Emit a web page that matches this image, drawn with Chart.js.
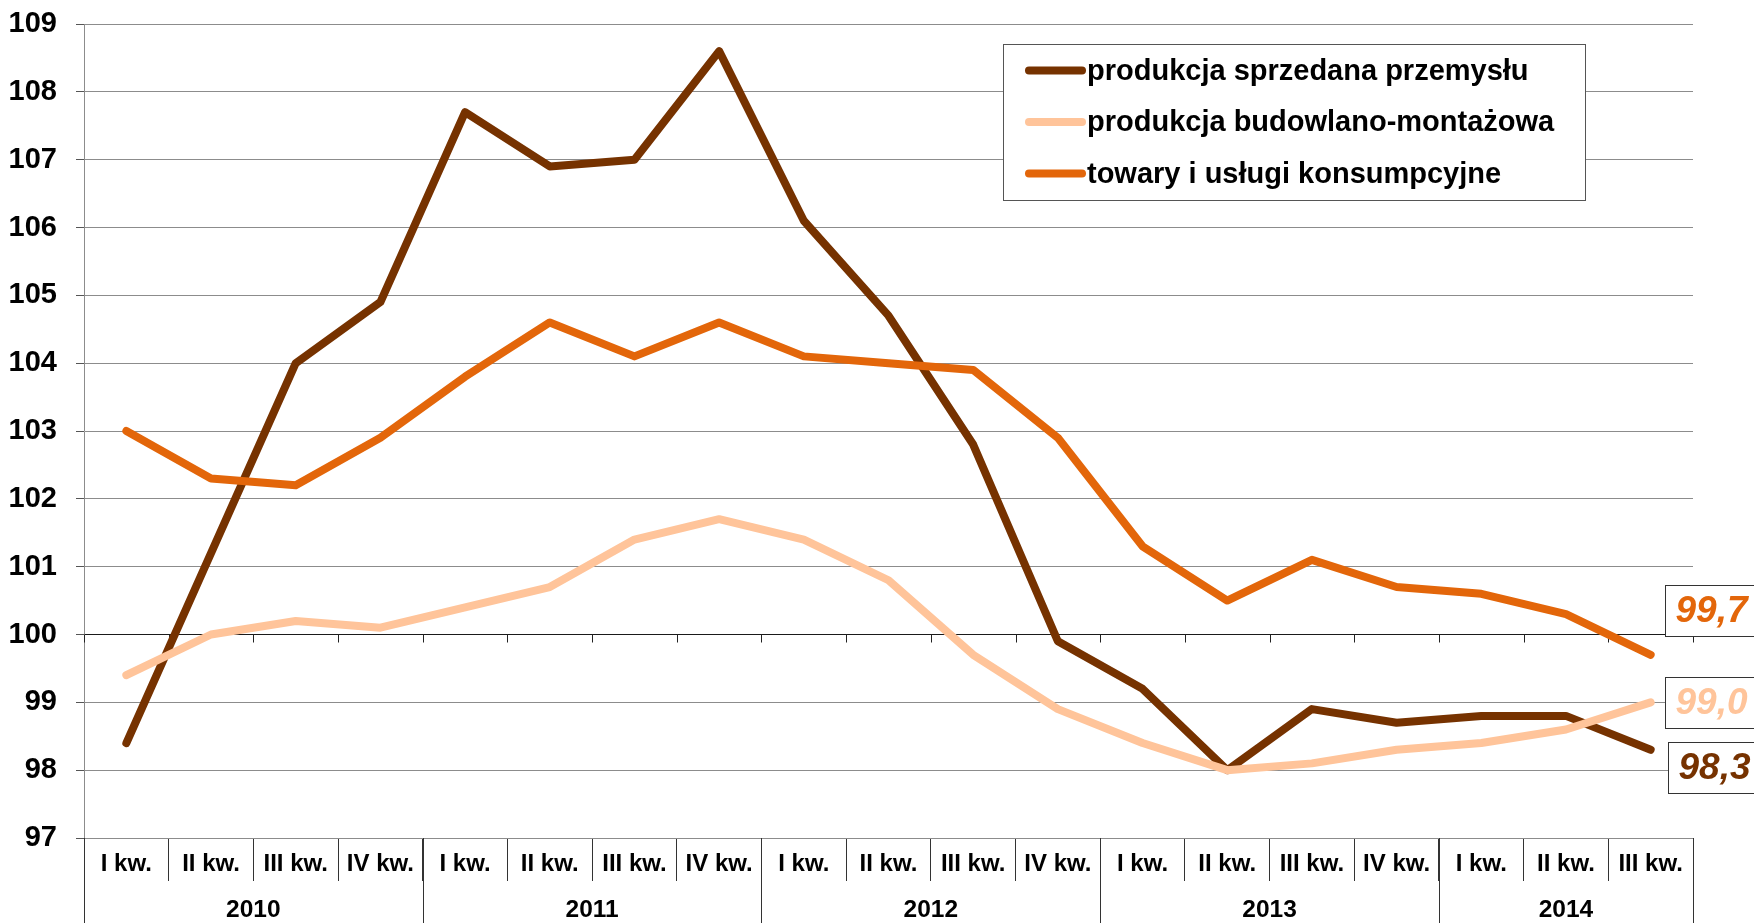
<!DOCTYPE html>
<html><head><meta charset="utf-8">
<script src="https://cdn.jsdelivr.net/npm/chart.js@4.4.1/dist/chart.umd.min.js"></script>
<style>html,body{margin:0;padding:0;background:#fff;overflow:hidden}
#wrap{width:1754px;height:923px;position:relative}</style>
</head><body><div id="wrap"><canvas id="c" width="1754" height="923"></canvas></div>
<script>
const quarters = ['I kw.','II kw.','III kw.','IV kw.','I kw.','II kw.','III kw.','IV kw.','I kw.','II kw.','III kw.','IV kw.','I kw.','II kw.','III kw.','IV kw.','I kw.','II kw.','III kw.'];
const years = ['2010','2011','2012','2013','2014'];
const quartersPerYear = [4,4,4,4,3];
const industry = [98.4,101.2,104.0,104.9,107.7,106.9,107.0,108.6,106.1,104.7,102.8,99.9,99.2,98.0,98.9,98.7,98.8,98.8,98.3];
const construction = [99.4,100.0,100.2,100.1,100.4,100.7,101.4,101.7,101.4,100.8,99.7,98.9,98.4,98.0,98.1,98.3,98.4,98.6,99.0];
const consumer = [103.0,102.3,102.2,102.9,103.8,104.6,104.1,104.6,104.1,104.0,103.9,102.9,101.3,100.5,101.1,100.7,100.6,100.3,99.7];
const seriesNames = ['produkcja sprzedana przemysłu','produkcja budowlano-montażowa','towary i usługi konsumpcyjne'];
const yMin = 97, yMax = 109, yStep = 1, yBase = 100;

const FONT = "'Liberation Sans', Arial, sans-serif";
const colors = ['#763200','#FFC49A','#E3660A'];

const decor = {
  id: 'decor',
  beforeDatasetsDraw(chart) {
    const {ctx, scales:{x, y}} = chart;
    const yb = y.getPixelForValue(yBase);
    const half = (x.getPixelForValue(1) - x.getPixelForValue(0)) / 2;
    ctx.save();
    ctx.strokeStyle = '#222';
    ctx.lineWidth = 1;
    ctx.beginPath();
    for (let i = 0; i <= quarters.length; i++) {
      const px = Math.round(x.getPixelForValue(i) - half) + 0.5;
      ctx.moveTo(px, yb); ctx.lineTo(px, yb + 8);
    }
    ctx.stroke();
    ctx.restore();
  },
  afterDraw(chart) {
    const {ctx, scales:{x, y}, chartArea} = chart;
    const half = (x.getPixelForValue(1) - x.getPixelForValue(0)) / 2;
    // year separators and labels
    ctx.save();
    ctx.strokeStyle = '#333';
    ctx.lineWidth = 1;
    ctx.font = 'bold 24.5px ' + FONT;
    ctx.fillStyle = '#000';
    ctx.textAlign = 'center';
    ctx.textBaseline = 'middle';
    let idx = 0;
    const bounds = [0];
    quartersPerYear.forEach(n => { idx += n; bounds.push(idx); });
    ctx.beginPath();
    bounds.forEach(b => {
      const px = Math.round(x.getPixelForValue(b) - half) + 0.5;
      ctx.moveTo(px, chartArea.bottom); ctx.lineTo(px, 923);
    });
    ctx.stroke();
    for (let k = 0; k < years.length; k++) {
      const a = x.getPixelForValue(bounds[k]) - half;
      const b = x.getPixelForValue(bounds[k+1]) - half;
      ctx.fillText(years[k], (a + b) / 2, 910);
    }
    ctx.restore();

    // legend
    ctx.save();
    const lx = 1003.5, ly = 44.5, lw = 582, lh = 156;
    ctx.fillStyle = '#fff';
    ctx.fillRect(lx, ly, lw, lh);
    ctx.strokeStyle = '#555';
    ctx.lineWidth = 1;
    ctx.strokeRect(lx, ly, lw, lh);
    ctx.font = 'bold 29px ' + FONT;
    ctx.textAlign = 'left';
    ctx.textBaseline = 'middle';
    chart.data.datasets.forEach((ds, i) => {
      const ry = 70.5 + i * 51.5;
      ctx.strokeStyle = ds.borderColor;
      ctx.lineWidth = 8;
      ctx.lineCap = 'round';
      ctx.beginPath(); ctx.moveTo(1029, ry); ctx.lineTo(1082, ry); ctx.stroke();
      ctx.fillStyle = '#000';
      ctx.fillText(ds.label, 1087, ry + 1);
    });
    ctx.restore();

    // value boxes
    const offs = [{dx:17.5, dy:18}, {dx:14.5, dy:0}, {dx:14.5, dy:-44}];
    ctx.save();
    ctx.font = 'italic bold 37px ' + FONT;
    ctx.textAlign = 'left';
    ctx.textBaseline = 'middle';
    chart.data.datasets.forEach((ds, i) => {
      const meta = chart.getDatasetMeta(i);
      const last = meta.data[meta.data.length - 1];
      const v = ds.data[ds.data.length - 1];
      const bx = Math.round(last.x + offs[i].dx) + 0.5;
      const cy = last.y + offs[i].dy;
      const by = Math.round(cy - 25.5) + 0.5;
      ctx.fillStyle = '#fff';
      ctx.fillRect(bx, by, 100, 51);
      ctx.strokeStyle = '#333';
      ctx.lineWidth = 1;
      ctx.strokeRect(bx, by, 100, 51);
      ctx.fillStyle = ds.borderColor;
      ctx.fillText(v.toFixed(1).replace('.', ','), bx + 10, cy + 1);
    });
    ctx.restore();
  }
};

const mk = (label, data, color, order) => ({
  label, data, borderColor: color, backgroundColor: color,
  borderWidth: 8, pointRadius: 0, pointHoverRadius: 0, tension: 0,
  borderCapStyle: 'round', borderJoinStyle: 'round', fill: false, order
});

new Chart(document.getElementById('c'), {
  type: 'line',
  data: {
    labels: quarters,
    datasets: [
      mk(seriesNames[0], industry, colors[0], 2),
      mk(seriesNames[1], construction, colors[1], 1),
      mk(seriesNames[2], consumer, colors[2], 0)
    ]
  },
  options: {
    responsive: false, animation: false,
    layout: { padding: { top: 24, right: 61, left: 0, bottom: 0 } },
    plugins: { legend: { display: false }, tooltip: { enabled: false } },
    scales: {
      x: {
        offset: true,
        grid: { offset: true, drawOnChartArea: false, drawTicks: true, tickLength: 43, color: '#333', lineWidth: 1 },
        border: { display: false },
        ticks: { autoSkip: false, maxRotation: 0, minRotation: 0, padding: -31, color: '#000',
                 font: { family: FONT, size: 24, weight: 'bold' } },
        afterFit(s) { s.height = 85; }
      },
      y: {
        min: yMin, max: yMax,
        ticks: { stepSize: yStep, padding: 19, color: '#000', font: { family: FONT, size: 29, weight: 'bold' } },
        grid: { color: c => (c.tick && c.tick.value === yBase) ? '#1a1a1a' : '#8c8c8c', lineWidth: 1, tickLength: 8, tickColor: '#555' },
        border: { display: true, color: '#8c8c8c', width: 1 },
        afterFit(s) { s.width = 84; s.paddingTop = 8; s.paddingBottom = 8; }
      }
    }
  },
  plugins: [decor]
});
</script></body></html>
